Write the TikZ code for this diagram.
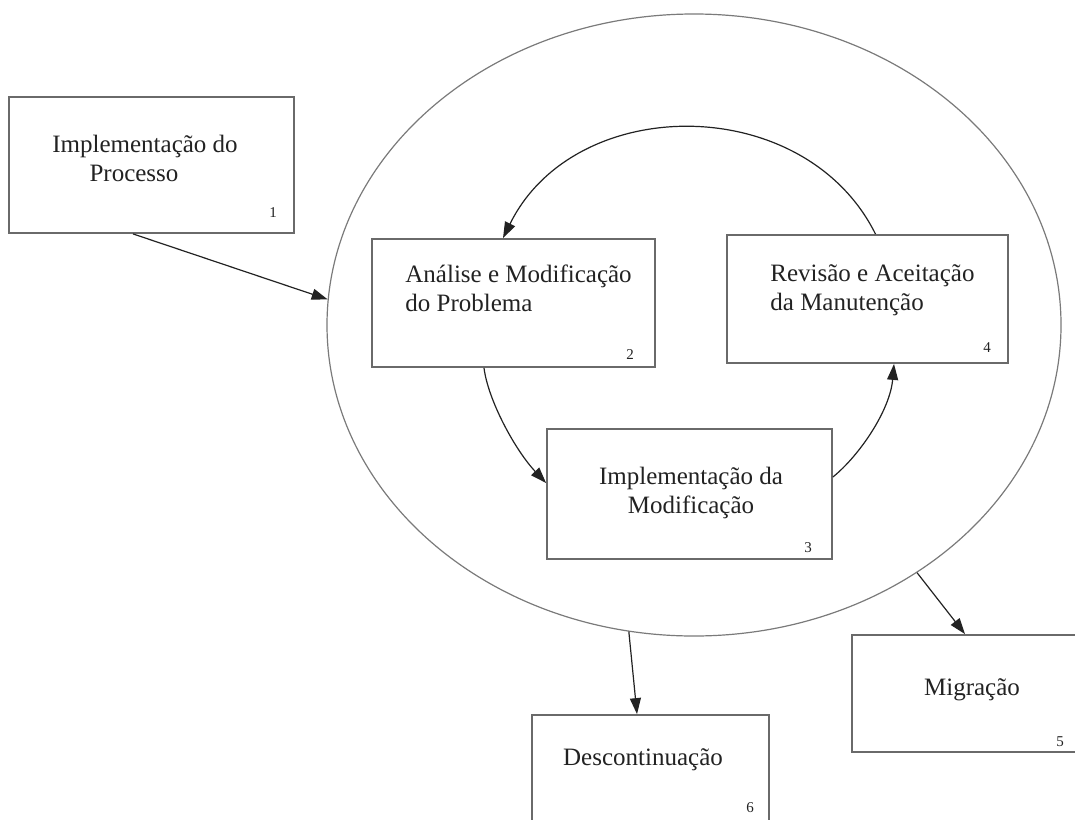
\documentclass[tikz,border=0pt]{standalone}
\usepackage{fontspec}
\setmainfont{Liberation Serif}
\usetikzlibrary{shapes.geometric,arrows.meta}
\definecolor{boxline}{HTML}{6A6A6A}
\definecolor{ringline}{HTML}{7A7A7A}
\definecolor{inkdark}{HTML}{222222}
\begin{document}
\begin{tikzpicture}[x=0.5pt,y=-0.5pt,
  box/.style={draw=boxline, line width=0.9pt, inner sep=0pt},
  label/.style={font=\fontsize{12.5}{14.5}\selectfont, text=inkdark, inner sep=0pt},
  tag/.style={font=\fontsize{7.5}{8}\selectfont, text=inkdark, inner sep=0pt},
  flow/.style={draw=inkdark, line width=0.6pt, -{Triangle[length=8pt,width=5.5pt]}}]
\path[use as bounding box, clip] (0,0) rectangle (1075,819);

% maintenance cycle
\node[draw=ringline, line width=0.6pt, ellipse, inner sep=0pt,
      minimum width=367pt, minimum height=311pt] (ring) at (694,325) {};

% activity boxes
\node[box, minimum width=142.5pt, minimum height=68pt]   (b1) at (151.5,165) {};
\node[box, minimum width=141.5pt, minimum height=64pt]   (b2) at (513.5,303) {};
\node[box, minimum width=142.5pt, minimum height=65pt]   (b3) at (689.5,494) {};
\node[box, minimum width=140.5pt, minimum height=64pt]   (b4) at (867.5,299) {};
\node[box, minimum width=116.5pt, minimum height=58.5pt] (b5) at (968.5,693.5) {};
\node[box, minimum width=118.5pt, minimum height=60pt]   (b6) at (650.5,775) {};

% box titles
\node[label, align=center] (t1) at (145,158) {Implementação do\\Processo\hspace*{11pt}};
\node[label, align=left, anchor=west] (t2) at (405,288) {Análise e Modificação\\do Problema};
\node[label, align=center] (t3) at (691,493) {Implementação da\\Modificação};
\node[label, align=left, anchor=west] (t4) at (770,290) {Revisão e Aceitação\\da Manutenção};
\node[label] (t5) at (972,690) {Migração};
\node[label] (t6) at (643,760) {Descontinuação};

% box numbers
\node[tag] (n1) at (273,213) {1};
\node[tag] (n2) at (630,355) {2};
\node[tag] (n3) at (808,548) {3};
\node[tag] (n4) at (987,348) {4};
\node[tag] (n5) at (1060,742) {5};
\node[tag] (n6) at (750,808) {6};

% entry, exits
\draw[flow] ([xshift=-9.25pt]b1.south) -- (ring.176);
\draw[flow] (ring.258) -- ([xshift=-6.75pt]b6.north);
\draw[flow] (ring.312) -- ([xshift=-1.75pt]b5.north);

% inner loop 2 -> 3 -> 4 -> 2
\draw[flow] ([xshift=-14.75pt]b2.south) .. controls (488,400) and (515,450) .. ([yshift=5.5pt]b3.west);
\draw[flow] ([yshift=8.5pt]b3.east) .. controls (860,455) and (890,410) .. ([xshift=13.25pt]b4.south);
\draw[flow] ([xshift=4pt]b4.north) .. controls (805,92) and (575,92) .. ([xshift=-5.25pt]b2.north);
\end{tikzpicture}
\end{document}
